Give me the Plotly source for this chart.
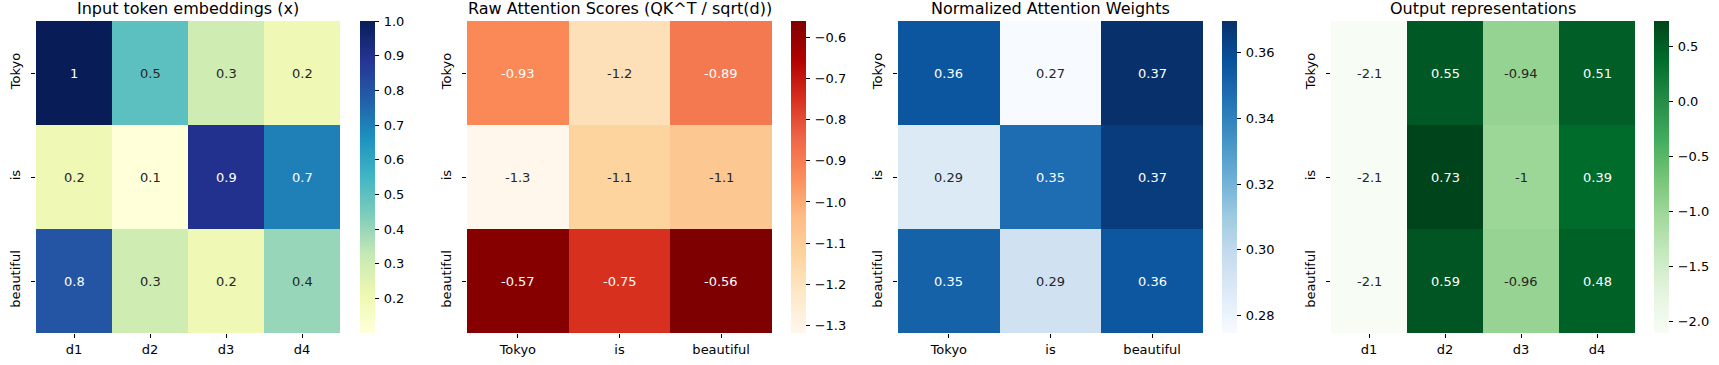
import plotly.graph_objects as go

# ---------------- data ----------------
tokens = ["Tokyo", "is", "beautiful"]
dims = ["d1", "d2", "d3", "d4"]

embed_vals = [[1.0, 0.5, 0.3, 0.2],
              [0.2, 0.1, 0.9, 0.7],
              [0.8, 0.3, 0.2, 0.4]]

raw_scores = [[-0.930, -1.188, -0.891],
              [-1.319, -1.130, -1.080],
              [-0.572, -0.750, -0.5595]]

attn_weights = [[0.3557, 0.2747, 0.3696],
                [0.2875, 0.3473, 0.3652],
                [0.3515, 0.2935, 0.3556]]

output_vals = [[-2.101, 0.55, -0.94, 0.51],
               [-2.103, 0.7349, -1.00, 0.39],
               [-2.099, 0.59, -0.96, 0.48]]

titles = ["Input token embeddings (x)", "Raw Attention Scores (QK^T / sqrt(d))",
          "Normalized Attention Weights", "Output representations"]

cb1_ticks = [0.2, 0.3, 0.4, 0.5, 0.6, 0.7, 0.8, 0.9, 1.0]
cb1_text = ["0.2", "0.3", "0.4", "0.5", "0.6", "0.7", "0.8", "0.9", "1.0"]
cb2_ticks = [-0.6, -0.7, -0.8, -0.9, -1.0, -1.1, -1.2, -1.3]
cb2_text = ["\u22120.6", "\u22120.7", "\u22120.8", "\u22120.9", "\u22121.0", "\u22121.1", "\u22121.2", "\u22121.3"]
cb3_ticks = [0.28, 0.30, 0.32, 0.34, 0.36]
cb3_text = ["0.28", "0.30", "0.32", "0.34", "0.36"]
cb4_ticks = [0.5, 0.0, -0.5, -1.0, -1.5, -2.0]
cb4_text = ["0.5", "0.0", "\u22120.5", "\u22121.0", "\u22121.5", "\u22122.0"]

# ---------------- colormaps (ColorBrewer, as in matplotlib) ----------------
YlGnBu = ["#ffffd9", "#edf8b1", "#c7e9b4", "#7fcdbb", "#41b6c4", "#1d91c0", "#225ea8", "#253494", "#081d58"]
OrRd = ["#fff7ec", "#fee8c8", "#fdd49e", "#fdbb84", "#fc8d59", "#ef6548", "#d7301f", "#b30000", "#7f0000"]
Blues = ["#f7fbff", "#deebf7", "#c6dbef", "#9ecae1", "#6baed6", "#4292c6", "#2171b5", "#08519c", "#08306b"]
Greens = ["#f7fcf5", "#e5f5e0", "#c7e9c0", "#a1d99b", "#74c476", "#41ab5d", "#238b45", "#006d2c", "#00441b"]


def hex_rgb(h):
    h = h.lstrip("#")
    return [int(h[i:i + 2], 16) for i in (0, 2, 4)]


def scale(colors):
    n = len(colors) - 1
    return [[i / n, c] for i, c in enumerate(colors)]


def sample(colors, t):
    t = min(max(t, 0.0), 1.0)
    n = len(colors) - 1
    i = min(int(t * n), n - 1)
    f = t * n - i
    a, b = hex_rgb(colors[i]), hex_rgb(colors[i + 1])
    return [a[k] + (b[k] - a[k]) * f for k in range(3)]


def text_color(rgb):
    lin = []
    for c in rgb:
        c = c / 255
        lin.append(c / 12.92 if c <= 0.03928 else ((c + 0.055) / 1.055) ** 2.4)
    lum = 0.2126 * lin[0] + 0.7152 * lin[1] + 0.0722 * lin[2]
    return "#262626" if lum > 0.408 else "white"


W, H = 1719, 365
y0, y1 = (H - 333) / H, (H - 21) / H
panels = [
    (embed_vals, dims, YlGnBu, (36, 340), 360, cb1_ticks, cb1_text),
    (raw_scores, tokens, OrRd, (467, 772), 791, cb2_ticks, cb2_text),
    (attn_weights, tokens, Blues, (898, 1203), 1222, cb3_ticks, cb3_text),
    (output_vals, dims, Greens, (1331, 1635), 1654, cb4_ticks, cb4_text),
]

FONT = "DejaVu Sans"
fig = go.Figure()
annotations = []
layout = {}
for k, (z, cols, cmap, (xa, xb), cbx, tv, tt) in enumerate(panels):
    idx = "" if k == 0 else str(k + 1)
    zmin = min(min(r) for r in z)
    zmax = max(max(r) for r in z)
    fig.add_trace(go.Heatmap(
        z=z, x=cols, y=tokens, colorscale=scale(cmap), zmin=zmin, zmax=zmax,
        xaxis="x" + idx, yaxis="y" + idx, hoverinfo="skip",
        colorbar=dict(x=cbx / W, xanchor="left", y=(y0 + y1) / 2, yanchor="middle",
                      len=y1 - y0, lenmode="fraction", thickness=15, thicknessmode="pixels",
                      outlinewidth=0, ticks="outside", ticklen=4, tickcolor="black",
                      tickvals=tv, ticktext=["\u2009" + s for s in tt],
                      tickfont=dict(size=13, color="black", family=FONT),
                      xpad=0, ypad=0),
    ))
    layout["xaxis" + idx] = dict(domain=[xa / W, xb / W], anchor="y" + idx, range=[-0.5, len(cols) - 0.5],
                                 showgrid=False, zeroline=False, showline=False, ticks="outside",
                                 ticklen=4, tickcolor="black", tickfont=dict(size=13, color="black"),
                                 fixedrange=True)
    layout["yaxis" + idx] = dict(domain=[y0, y1], anchor="x" + idx, range=[len(tokens) - 0.5, -0.5],
                                 showgrid=False, zeroline=False, showline=False, ticks="outside",
                                 ticklen=4, tickcolor="black", tickangle=-90, ticklabelstandoff=6,
                                 tickfont=dict(size=13, color="black"), fixedrange=True)
    for i, row in enumerate(z):
        for j, v in enumerate(row):
            rgb = sample(cmap, (v - zmin) / (zmax - zmin))
            annotations.append(dict(x=cols[j], y=tokens[i], xref="x" + idx, yref="y" + idx,
                                    text=f"{v:.2g}", showarrow=False,
                                    font=dict(size=13, color=text_color(rgb), family=FONT)))
    annotations.append(dict(x=(xa + xb) / 2 / W, y=(H - 8) / H, xref="paper", yref="paper",
                            xanchor="center", yanchor="middle", borderpad=0,
                            text=titles[k], showarrow=False,
                            font=dict(size=16, color="black", family=FONT)))

fig.update_layout(width=W, height=H, margin=dict(l=0, r=0, t=0, b=0),
                  paper_bgcolor="white", plot_bgcolor="white",
                  font=dict(family=FONT, color="black"), annotations=annotations, **layout)
fig.write_html("out.html", config={"displayModeBar": False},
               post_script="document.body.style.margin='0';document.body.style.padding='0';"
                           "document.body.style.overflow='hidden';")
